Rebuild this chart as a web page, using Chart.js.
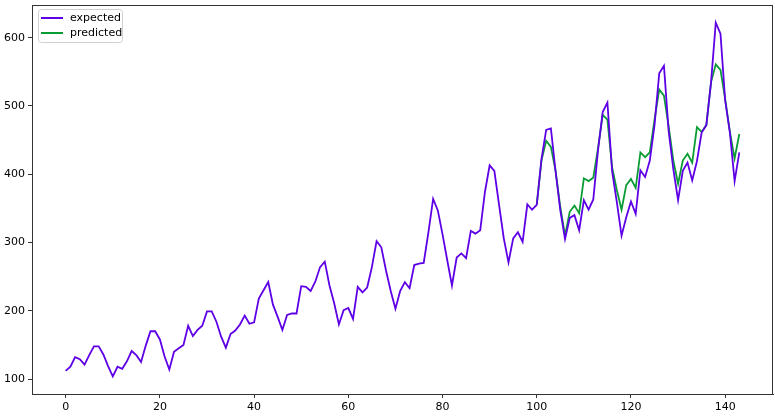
<!DOCTYPE html>
<html><head><meta charset="utf-8">
<script src="https://cdn.jsdelivr.net/npm/chart.js@4.4.0/dist/chart.umd.min.js"></script>
<style>html,body{margin:0;padding:0;background:#fff}#wrap{width:775px;height:416px}</style>
</head><body><div id="wrap"><canvas id="c" width="775" height="416"></canvas></div>
<script>
const expected = [
112,118,132,129,121,135,148,148,136,119,104,118,
115,126,141,135,125,149,170,170,158,133,114,140,
145,150,178,163,172,178,199,199,184,162,146,166,
171,180,193,181,183,218,230,242,209,191,172,194,
196,196,236,235,229,243,264,272,237,211,180,201,
204,188,235,227,234,264,302,293,259,229,203,229,
242,233,267,269,270,315,364,347,312,274,237,278,
284,277,317,313,318,374,413,405,355,306,271,306,
315,301,356,348,355,422,465,467,404,347,305,336,
340,318,362,348,363,435,491,505,404,359,310,337,
360,342,406,396,420,472,548,559,463,407,362,405,
417,391,419,461,472,535,622,606,508,461,390,432];
const predictedStart = 100;
const predicted = [
356,420,449,440,405,352,310,345,354,343,394,390,
395,438,487,480,410,377,348,384,393,380,432,425,
432,480,524,515,470,420,386,420,430,417,469,462,
472,535,561,553,510,462,423,459];
const xTicks = [0,20,40,60,80,100,120,140];
const yTicks = [100,200,300,400,500,600];
const seriesNames = ['expected','predicted'];
const seriesColors = ['#5e00e6','#0a9c34'];

const expPts = expected.map((v,i)=>({x:i,y:v}));
const predPts = predicted.map((v,i)=>({x:predictedStart+i,y:v}));

const tickFont = {family:'DejaVu Sans', size:11};

const framePlugin = {
  id:'frame',
  afterDraw(chart){
    const a = chart.chartArea, ctx = chart.ctx;
    ctx.save();
    ctx.strokeStyle = '#333';
    ctx.lineWidth = 1;
    ctx.strokeRect(Math.round(a.left)+0.5, Math.round(a.top)+0.5, Math.round(a.right-a.left)-1, Math.round(a.bottom-a.top));
    // legend
    const lx = a.left + 6, ly = a.top + 4, lw = 84, lh = 33;
    ctx.fillStyle = 'rgba(255,255,255,0.85)';
    ctx.strokeStyle = '#d0d0d0';
    ctx.beginPath();
    if (ctx.roundRect) ctx.roundRect(lx+0.5, ly+0.5, lw, lh, 3); else ctx.rect(lx+0.5, ly+0.5, lw, lh);
    ctx.fill(); ctx.stroke();
    ctx.font = '11px "DejaVu Sans"';
    ctx.textBaseline = 'middle';
    chart.data.datasets.forEach((ds, k) => {
      const y = ly + 9 + k*15;
      ctx.strokeStyle = ds.borderColor;
      ctx.lineWidth = 2;
      ctx.beginPath(); ctx.moveTo(lx+3, y); ctx.lineTo(lx+25, y); ctx.stroke();
      ctx.fillStyle = '#000';
      ctx.fillText(ds.label, lx+32, y);
    });
    ctx.restore();
  }
};

new Chart(document.getElementById('c'), {
  type:'line',
  data:{datasets:[
    {label:seriesNames[0], data:expPts, borderColor:seriesColors[0], backgroundColor:seriesColors[0], borderWidth:1.8, pointRadius:0, tension:0, fill:false},
    {label:seriesNames[1], data:predPts, borderColor:seriesColors[1], backgroundColor:seriesColors[1], borderWidth:1.8, pointRadius:0, tension:0, fill:false}
  ]},
  options:{
    responsive:false, animation:false, devicePixelRatio:1,
    layout:{padding:{top:5,right:2,left:0,bottom:0}},
    plugins:{legend:{display:false}, tooltip:{enabled:false}},
    scales:{
      x:{type:'linear', min:-7.15, max:150.15,
        afterBuildTicks:s=>{s.ticks = xTicks.map(v=>({value:v}));},
        afterFit:s=>{s.height = 22; s.paddingLeft = 0; s.paddingRight = 0;},
        grid:{display:true, drawOnChartArea:false, drawTicks:true, tickLength:4, color:'#333'},
        border:{display:true, color:'#333'},
        ticks:{font:tickFont, color:'#000', padding:3, maxRotation:0, autoSkip:false}},
      y:{type:'linear', min:78.1, max:647.9,
        afterBuildTicks:s=>{s.ticks = yTicks.map(v=>({value:v}));},
        afterFit:s=>{s.width = 32; s.paddingTop = 0; s.paddingBottom = 0;},
        grid:{display:true, drawOnChartArea:false, drawTicks:true, tickLength:4, color:'#333'},
        border:{display:true, color:'#333'},
        ticks:{font:tickFont, color:'#000', padding:3, autoSkip:false}}
    }
  },
  plugins:[framePlugin]
});
</script></body></html>
